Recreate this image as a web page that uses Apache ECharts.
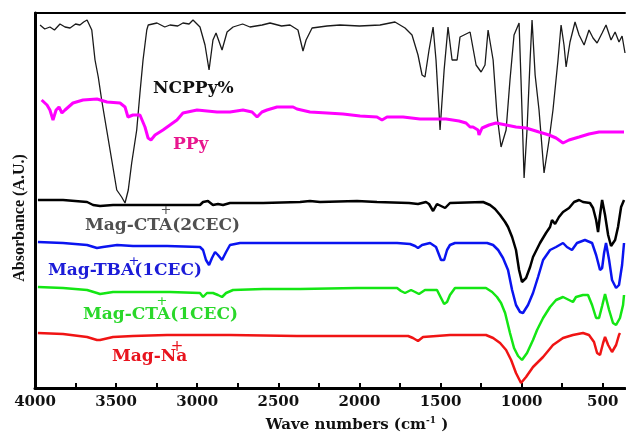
<!DOCTYPE html>
<html>
<head>
<meta charset="utf-8">
<script src="https://cdn.jsdelivr.net/npm/echarts@6/dist/echarts.min.js"></script>
<style>
  html, body { margin: 0; padding: 0; background: #fff; }
  #chart { width: 626px; height: 434px; }
</style>
</head>
<body>
<div id="chart"></div>
<script>
// wavenumber (cm-1), absorbance (a.u., offset per trace)
var ncppy = [
  [3969,363],[3940,359],[3908,361],[3880,358],[3846,364],[3815,361],[3784,360],[3750,364],[3723,363],
  [3700,366],[3679,368],[3650,358],[3630,328],
  [3610,311],[3589,288],[3558,258],[3527,228],[3496,198],[3466,191],[3445,185],[3425,198],
  [3404,225],[3373,258],[3353,295],[3334,328],[3311,358],[3302,363],[3248,365],[3200,361],[3168,363],
  [3120,362],[3088,365],[3050,364],[3026,368],[2983,361],[2952,343],[2927,318],[2903,348],[2884,355],[2847,338],
  [2816,356],[2779,361],[2720,364],[2675,361],[2600,363],[2551,365],[2480,362],[2428,363],[2379,358],[2348,337],[2329,348],
  [2292,360],[2200,362],[2120,363],[2000,362],[1873,363],[1781,366],[1719,360],[1676,353],[1639,333],[1614,313],
  [1596,311],[1571,338],[1546,361],[1528,328],[1503,258],[1478,318],[1454,361],[1429,328],
  [1398,328],[1380,351],[1318,356],[1281,323],[1250,316],[1226,323],[1207,358],[1176,328],
  [1152,273],[1127,241],[1096,258],[1072,308],[1047,353],[1016,365],[1004,308],[985,210],
  [967,258],[948,328],[936,368],[917,313],[893,278],[862,215],[831,248],[807,278],
  [776,328],[757,363],[739,343],[726,321],[702,346],[671,366],[646,353],[615,343],
  [585,358],[560,350],[535,345],[504,355],[480,363],[449,348],[424,356],[400,346],
  [381,352],[363,335]
];
var ppy = [
  [3959,288],[3926,283],[3908,278],[3889,268],[3870,278],[3852,281],[3834,275],[3815,278],
  [3766,285],[3704,288],[3618,289],[3556,286],[3476,285],[3445,281],[3427,271],[3396,273],
  [3353,273],[3322,261],[3303,250],[3285,248],[3260,253],[3211,258],[3168,263],[3125,268],
  [3088,275],[3001,278],[2878,276],[2798,276],[2718,278],[2662,276],[2631,271],[2601,276],
  [2570,278],[2508,281],[2409,281],[2385,279],[2305,276],[2200,275],[2101,274],[1996,272],
  [1892,271],[1861,268],[1830,271],[1731,271],[1627,269],[1590,269],[1466,269],[1386,267],
  [1343,265],[1318,261],[1300,261],[1269,258],[1263,253],[1244,260],[1201,263],[1158,265],
  [1096,263],[1035,261],[973,260],[893,256],[831,253],[788,250],[745,245],[708,248],
  [646,251],[585,254],[523,256],[443,256],[369,256]
];
var magCta2 = [
  [3982,188],[3827,188],[3679,186],[3642,183],[3599,182],[3519,183],[3414,183],[3211,183],
  [2983,183],[2964,186],[2934,187],[2903,183],[2872,184],[2841,183],[2798,185],[2594,185],
  [2366,186],[2305,187],[2243,186],[2015,187],[1892,186],[1694,185],[1639,184],[1627,182],
  [1590,186],[1571,184],[1546,177],[1522,184],[1497,182],[1472,180],[1442,185],[1238,186],
  [1195,183],[1164,179],[1133,173],[1102,166],[1084,161],[1059,151],[1035,138],[1016,118],
  [998,106],[973,110],[948,121],[930,131],[887,145],[850,155],[825,161],[813,168],
  [794,164],[770,171],[745,176],[708,180],[677,186],[646,188],[622,186],[579,185],
  [560,180],[541,168],[529,156],[517,173],[504,188],[486,173],[467,153],[449,142],
  [424,148],[406,161],[387,181],[369,188]
];
var magTba = [
  [3982,146],[3827,145],[3679,143],[3618,140],[3581,141],[3494,143],[3396,142],[3186,142],
  [2983,141],[2964,138],[2946,128],[2927,123],[2909,130],[2890,136],[2872,133],[2847,128],
  [2822,136],[2798,143],[2736,145],[2594,145],[2366,145],[2150,145],[1978,145],[1768,145],
  [1688,144],[1657,142],[1639,140],[1614,143],[1565,145],[1528,141],[1497,128],[1478,128],
  [1460,138],[1442,143],[1411,145],[1213,145],[1176,143],[1145,138],[1115,130],[1084,118],
  [1059,98],[1035,83],[1010,76],[992,75],[961,83],[930,95],[899,111],[868,128],
  [825,138],[788,141],[745,145],[721,141],[690,138],[659,145],[610,148],[566,145],
  [541,133],[517,118],[504,120],[492,135],[480,145],[461,128],[443,108],[418,100],
  [400,103],[381,123],[369,145]
];
var magCta1 = [
  [3982,101],[3827,100],[3679,98],[3618,95],[3599,94],[3519,96],[3353,96],[3168,96],
  [2983,95],[2964,91],[2940,95],[2903,95],[2872,93],[2847,91],[2822,95],[2779,98],
  [2594,99],[2366,99],[2015,100],[1768,100],[1744,97],[1719,95],[1682,98],[1657,96],
  [1633,94],[1596,98],[1522,98],[1497,90],[1478,84],[1460,86],[1442,93],[1411,100],
  [1220,100],[1182,96],[1152,91],[1127,85],[1102,75],[1072,55],[1047,40],[1022,32],
  [998,28],[967,35],[930,48],[905,58],[868,70],[825,81],[788,88],[745,91],
  [708,88],[684,86],[665,91],[622,93],[591,93],[566,83],[541,70],[523,70],
  [504,82],[486,94],[461,78],[437,65],[418,63],[394,70],[375,83],[369,93]
];
var magNa = [
  [3982,55],[3827,54],[3679,51],[3618,48],[3599,48],[3519,51],[3396,52],[3186,53],
  [2798,53],[2385,52],[2101,52],[1700,52],[1670,50],[1639,47],[1608,51],[1442,53],
  [1220,53],[1176,50],[1133,45],[1096,38],[1065,28],[1035,15],[1004,5],[973,11],
  [930,21],[868,31],[807,43],[745,50],[684,53],[622,55],[585,53],[554,46],
  [535,35],[517,33],[498,45],[486,51],[467,43],[443,36],[418,43],[400,53],[394,55]
];
var labelTicks = [500, 1000, 1500, 2000, 2500, 3000, 3500, 4000];
var allTicks = [500, 750, 1000, 1250, 1500, 1750, 2000, 2250, 2500, 2750, 3000, 3250, 3500, 3750, 4000];

var chart = echarts.init(document.getElementById('chart'), null, { renderer: 'canvas' });

var labFont = 'bold 17px "DejaVu Serif"';

function line(name, data, color, width) {
  return {
    name: name, type: 'line', data: data, showSymbol: false,
    lineStyle: { color: color, width: width }, z: 2
  };
}

function label(x, y, text, color, plusX, plusY, plusSize) {
  return [
    { type: 'text', x: x, y: y, style: { text: text, font: labFont, fill: color, verticalAlign: 'middle' } },
    { type: 'text', x: plusX, y: plusY, style: { text: '+', font: (plusSize || 13) + 'px "DejaVu Sans"', fill: color, align: 'center', verticalAlign: 'middle' } }
  ];
}

var graphics = [
  { type: 'text', x: 153, y: 89, style: { text: 'NCPPy%', font: labFont, fill: '#111', verticalAlign: 'middle' } },
  { type: 'text', x: 173, y: 145, style: { text: 'PPy', font: labFont, fill: '#e8168e', verticalAlign: 'middle' } },
  {
    type: 'text', x: 20, y: 218, rotation: Math.PI / 2,
    style: { text: 'Absorbance (A.U.)', font: 'bold 16px "Liberation Serif"', fill: '#111', align: 'center', verticalAlign: 'middle' }
  },
  {
    type: 'text', x: 357, y: 425,
    style: {
      text: '{a|Wave numbers (cm}{s|-1}{a| )}', align: 'center', verticalAlign: 'middle',
      rich: {
        a: { font: 'bold 15px "DejaVu Serif"', fill: '#111' },
        s: { font: 'bold 9px "DejaVu Serif"', fill: '#111', verticalAlign: 'top', padding: [0, 0, 8, 0] }
      }
    }
  }
].concat(
  label(85, 226, 'Mag-CTA(2CEC)', '#505050', 166, 211, 13),
  label(48, 271, 'Mag-TBA(1CEC)', '#1c1cd8', 134, 262, 13),
  label(83, 315, 'Mag-CTA(1CEC)', '#2ad82a', 162, 302, 13),
  label(112, 357, 'Mag-Na', '#e8141e', 177, 347, 15)
);

var option = {
  animation: false,
  backgroundColor: '#fff',
  grid: { left: 35, right: 1, top: 13, bottom: 46 },
  xAxis: [{
    type: 'value', min: 363, max: 4000, inverse: true,
    axisLine: { show: true, lineStyle: { color: '#000', width: 3 } },
    axisTick: { show: true, inside: true, length: 5, customValues: allTicks, lineStyle: { color: '#000', width: 2 } },
    axisLabel: {
      customValues: labelTicks, fontFamily: 'DejaVu Serif', fontWeight: 'bold', fontSize: 15, color: '#111', margin: 7,
      formatter: function (v) { return String(v); }
    },
    splitLine: { show: false }
  }, {
    type: 'value', position: 'top', min: 363, max: 4000, inverse: true,
    axisLine: { show: true, lineStyle: { color: '#000', width: 2 } },
    axisTick: { show: false }, axisLabel: { show: false }, splitLine: { show: false }
  }],
  yAxis: {
    type: 'value', min: 0, max: 375,
    axisLine: { show: true, lineStyle: { color: '#000', width: 3 } },
    axisTick: { show: false }, axisLabel: { show: false }, splitLine: { show: false }
  },
  series: [
    line('NCPPy%', ncppy, '#1a1a1a', 1.3),
    line('PPy', ppy, '#ff00ff', 3),
    line('Mag-CTA+(2CEC)', magCta2, '#000000', 2.5),
    line('Mag-TBA+(1CEC)', magTba, '#0a14f0', 2.5),
    line('Mag-CTA+(1CEC)', magCta1, '#14e614', 2.5),
    line('Mag-Na+', magNa, '#f01414', 2.5)
  ],
  graphic: graphics
};

chart.setOption(option);
</script>
</body>
</html>
